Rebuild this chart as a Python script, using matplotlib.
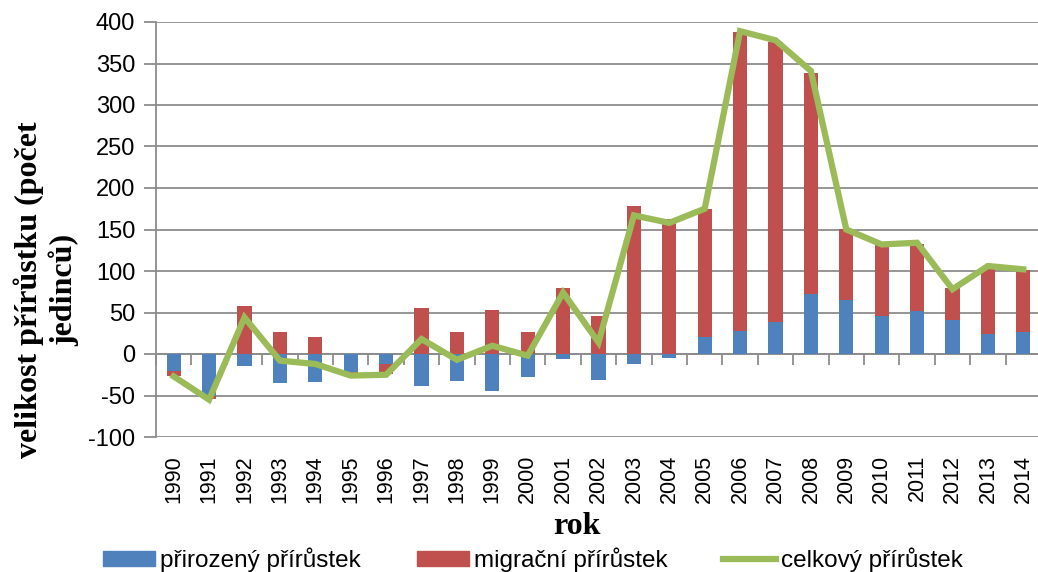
import numpy as np
import matplotlib
matplotlib.use("Agg")
import matplotlib.pyplot as plt
from matplotlib.patches import Patch
from matplotlib.lines import Line2D

# data
roky = [str(r) for r in range(1990, 2015)]
prirozeny = [-20, -51, -15, -35, -34, -22, -12, -38, -32, -45, -28, -6, -31,
             -12, -5, 20, 28, 39, 72, 65, 46, 52, 41, 24, 27]
migracni = [-7, -3, 58, 26, 20, -3, -12, 55, 26, 53, 26, 79, 46,
            178, 163, 155, 360, 337, 267, 85, 85, 81, 38, 80, 74]
celkovy = [-27, -55, 44, -8, -12, -26, -25, 18, -7, 10, -2, 74, 14,
           167, 158, 175, 389, 378, 341, 150, 132, 134, 78, 106, 102]
y_ticks = [-100, -50, 0, 50, 100, 150, 200, 250, 300, 350, 400]

modra = "#4F81BD"
cervena = "#C0504D"
zelena = "#9BBB59"
seda = "#8C8C8C"

plt.rcParams["font.family"] = ["Liberation Sans", "DejaVu Sans"]
plt.rcParams["axes.unicode_minus"] = False

fig = plt.figure(figsize=(10.38, 5.72), dpi=100)
ax = fig.add_axes([156 / 1038, 1 - 437 / 572, 885 / 1038, 415 / 572])

x = np.arange(len(roky))
p = np.array(prirozeny)
m = np.array(migracni)
# Excel stacking: kladne na kladne, zaporne pod zaporne
spodek = np.where(m >= 0, np.maximum(p, 0), np.minimum(p, 0))

ax.bar(x, p, width=0.4, color=modra, zorder=3)
ax.bar(x, m, width=0.4, bottom=spodek, color=cervena, zorder=3)
ax.plot(x, celkovy, color=zelena, lw=4.5, solid_joinstyle="miter", zorder=4)

ax.set_xlim(-0.5, len(roky) - 0.5)
ax.set_ylim(-100, 400)
ax.set_yticks(y_ticks)
ax.yaxis.grid(True, color=seda, lw=1.3, zorder=0)
ax.tick_params(axis="y", labelsize=17, length=9, width=1.3, color=seda, pad=6)

for s in ["top", "right"]:
    ax.spines[s].set_visible(False)
ax.spines["left"].set_color(seda)
ax.spines["left"].set_linewidth(1.3)

# osa x v nule, znacky mezi kategoriemi
ax.spines["bottom"].set_position(("data", 0))
ax.spines["bottom"].set_color(seda)
ax.spines["bottom"].set_linewidth(1.3)
ax.set_xticks(np.arange(len(roky) + 1) - 0.5)
ax.set_xticklabels([])
ax.tick_params(axis="x", length=8, width=1.3, color=seda)

sec = ax.secondary_xaxis(0)
sec.set_xticks(x, labels=roky, rotation=90)
sec.tick_params(length=0, pad=13, labelsize=15.5)
sec.spines["bottom"].set_visible(False)

fig.text(46 / 1038, 1 - 290 / 572, "velikost přírůstku (počet\njedinců)",
         rotation=90, ha="center", va="center", multialignment="center",
         family="Liberation Serif", weight="bold", fontsize=23, linespacing=1.2)
fig.text(577 / 1038, 1 - 527 / 572, "rok", ha="center", va="center",
         family="Liberation Serif", weight="bold", fontsize=23)

handles = [Patch(color=modra), Patch(color=cervena),
           Line2D([], [], color=zelena, lw=4.5)]
labels = ["přirozený přírůstek", "migrační přírůstek", "celkový přírůstek"]
fig.legend(handles, labels, ncol=3, loc="center left",
           bbox_to_anchor=(103 / 1038, 1 - 560 / 572), frameon=False,
           fontsize=17.5, handlelength=2.15, handleheight=0.6,
           handletextpad=0.2, columnspacing=2.3, borderpad=0, borderaxespad=0)

fig.savefig("out.png", dpi=100)
